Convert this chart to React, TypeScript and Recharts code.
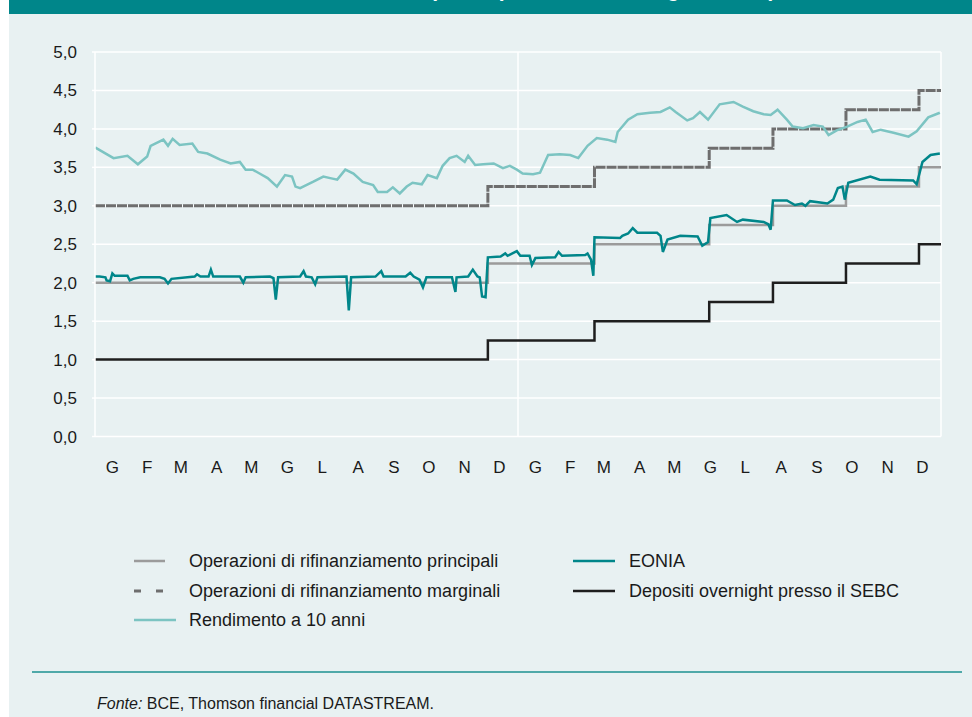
import React from 'react';
import { LineChart, Line, XAxis, YAxis, CartesianGrid, ReferenceLine } from 'recharts';

// days counted from 1 Jan 2005 (0) to 31 Dec 2006 (730)
const rateDays = [0, 339, 431, 530, 585, 648, 711, 730];
const mainRefi = [2.0, 2.25, 2.5, 2.75, 3.0, 3.25, 3.5, 3.5];
const marginalRefi = [3.0, 3.25, 3.5, 3.75, 4.0, 4.25, 4.5, 4.5];
const overnightDeposit = [1.0, 1.25, 1.5, 1.75, 2.0, 2.25, 2.5, 2.5];

const eoniaDays = [
  0, 4, 9, 10, 13, 15, 17, 28, 30, 33, 39, 56, 60, 63, 66, 86, 88, 91, 98, 100,
  102, 125, 128, 130, 151, 154, 156, 158, 177, 180, 182, 187, 190, 192, 217, 219, 221, 242, 247, 249,
  268, 272, 275, 280, 283, 286, 308, 311, 312, 322, 326, 330, 332, 334, 337, 339, 350, 354, 356, 364,
  367, 375, 377, 380, 397, 400, 403, 423, 425, 428, 430, 431, 453, 455, 460, 464, 468, 485, 488, 490,
  494, 505, 520, 524, 529, 531, 545, 554, 559, 577, 581, 583, 585, 597, 604, 610, 613, 617, 632, 637,
  641, 645, 647, 650, 669, 677, 706, 709, 714, 721, 729,
];
const eoniaValues = [
  2.08, 2.08, 2.07, 2.03, 2.02, 2.12, 2.09, 2.09, 2.03, 2.05, 2.07, 2.07, 2.05, 1.99, 2.05, 2.08, 2.11, 2.08, 2.08, 2.17,
  2.08, 2.08, 2.0, 2.07, 2.08, 2.06, 1.78, 2.07, 2.08, 2.15, 2.08, 2.07, 1.98, 2.07, 2.08, 1.64, 2.07, 2.08, 2.15, 2.08,
  2.08, 2.13, 2.08, 2.04, 1.94, 2.07, 2.07, 1.88, 2.07, 2.08, 2.17, 2.08, 2.07, 1.82, 1.81, 2.33, 2.34, 2.38, 2.35, 2.41,
  2.35, 2.35, 2.23, 2.32, 2.33, 2.4, 2.35, 2.36, 2.38, 2.3, 2.09, 2.59, 2.58, 2.61, 2.64, 2.71, 2.65, 2.65, 2.61, 2.4,
  2.56, 2.61, 2.6, 2.48, 2.53, 2.84, 2.88, 2.79, 2.82, 2.79, 2.76, 2.69, 3.07, 3.07, 3.01, 3.03, 3.0, 3.06, 3.03, 3.08,
  3.23, 3.25, 3.08, 3.3, 3.38, 3.34, 3.33, 3.28, 3.57, 3.66, 3.68,
];

const bondDays = [
  0, 16, 28, 37, 45, 48, 59, 63, 67, 73, 84, 89, 97, 108, 117, 125, 130, 136, 142, 149,
  157, 164, 170, 173, 177, 188, 197, 203, 209, 216, 223, 231, 240, 244, 252, 257, 263, 269, 274, 282,
  287, 295, 300, 306, 312, 319, 322, 328, 335, 344, 352, 358, 364, 369, 378, 384, 391, 401, 410, 417,
  425, 433, 442, 449, 451, 460, 468, 479, 488, 496, 501, 511, 516, 522, 529, 539, 551, 559, 568, 577,
  583, 589, 597, 602, 611, 620, 628, 633, 640, 649, 658, 665, 671, 678, 689, 702, 709, 719, 729,
];
const bondValues = [
  3.76, 3.62, 3.65, 3.54, 3.64, 3.78, 3.86, 3.78, 3.87, 3.79, 3.81, 3.7, 3.68, 3.6, 3.55, 3.57, 3.47, 3.47, 3.42, 3.36,
  3.25, 3.4, 3.38, 3.25, 3.23, 3.31, 3.38, 3.36, 3.34, 3.47, 3.42, 3.31, 3.27, 3.18, 3.18, 3.24, 3.16, 3.25, 3.3, 3.28,
  3.4, 3.36, 3.52, 3.62, 3.65, 3.57, 3.65, 3.53, 3.54, 3.55, 3.49, 3.52, 3.47, 3.42, 3.41, 3.43, 3.66, 3.67, 3.66, 3.62,
  3.78, 3.88, 3.86, 3.83, 3.96, 4.12, 4.19, 4.21, 4.22, 4.28, 4.22, 4.11, 4.14, 4.22, 4.12, 4.32, 4.35, 4.29, 4.23, 4.19,
  4.18, 4.25, 4.12, 4.03, 4.01, 4.05, 4.03, 3.92, 3.98, 4.03, 4.09, 4.12, 3.96, 3.99, 3.95, 3.9, 3.97, 4.15, 4.21,
];

const monthTicks = [15, 45, 74, 105, 135, 166, 196, 227, 258, 288, 319, 349, 380, 410, 439, 470, 500, 531, 561, 592, 623, 653, 684, 714];
const monthLabels = ['G', 'F', 'M', 'A', 'M', 'G', 'L', 'A', 'S', 'O', 'N', 'D', 'G', 'F', 'M', 'A', 'M', 'G', 'L', 'A', 'S', 'O', 'N', 'D'];
const yearTicks = [194, 561];
const yearLabels = ['2005', '2006'];
const yTicks = [0, 0.5, 1, 1.5, 2, 2.5, 3, 3.5, 4, 4.5, 5];

const toRows = (days: number[], values: number[]) => days.map((d, i) => ({ day: d, v: values[i] }));

const mroData = toRows(rateDays, mainRefi);
const marginalData = toRows(rateDays, marginalRefi);
const depositData = toRows(rateDays, overnightDeposit);
const eoniaData = toRows(eoniaDays, eoniaValues);
const bondData = toRows(bondDays, bondValues);

const FONT = '"Liberation Sans", Arial, sans-serif';
const BG = '#e8f1f2';

const legendItems = [
  { label: 'Operazioni di rifinanziamento principali', color: '#9b9b9b', dash: '', len: 31, x: 134, tx: 189, y: 561 },
  { label: 'Operazioni di rifinanziamento marginali', color: '#6e6e6e', dash: '7 15', len: 31, x: 134, tx: 189, y: 591 },
  { label: 'Rendimento a 10 anni', color: '#7cc4c2', dash: '', len: 42, x: 134, tx: 189, y: 620 },
  { label: 'EONIA', color: '#00868a', dash: '', len: 42, x: 573, tx: 629, y: 561 },
  { label: 'Depositi overnight presso il SEBC', color: '#1e1e1e', dash: '', len: 42, x: 573, tx: 629, y: 591 },
];

const fmt = (v: number) => v.toFixed(1).replace('.', ',');

export default function App() {
  return (
    <div style={{ position: 'absolute', left: 0, top: 0, width: 972, height: 717, background: '#fff', overflow: 'hidden', fontFamily: FONT }}>
      <div style={{ position: 'absolute', left: 9, top: 0, width: 963, height: 717, background: BG }} />
      <div style={{ position: 'absolute', left: 9, top: 0, width: 963, height: 14, background: '#00868a', overflow: 'hidden' }}>
        <div style={{ position: 'absolute', left: 421, top: -22, whiteSpace: 'nowrap', color: '#fff', fontSize: 21, fontWeight: 'bold' }}>
          (valori percentuali; dati giornalieri)
        </div>
      </div>

      <div style={{ position: 'absolute', left: 0, top: 0 }}>
        <LineChart width={972} height={520} margin={{ top: 52, right: 31, bottom: 13.5, left: 0 }}>
          <CartesianGrid vertical={false} stroke="#ffffff" strokeWidth={1.5} />
          <XAxis
            dataKey="day"
            type="number"
            domain={[0, 730]}
            ticks={monthTicks}
            interval={0}
            tickFormatter={(v: number) => monthLabels[monthTicks.indexOf(v)]}
            axisLine={false}
            tickLine={false}
            tickSize={0}
            tickMargin={24}
            height={40}
            tick={{ fontSize: 17, fill: '#1a1a1a', fontFamily: FONT }}
          />
          <XAxis
            xAxisId="year"
            dataKey="day"
            type="number"
            domain={[0, 730]}
            ticks={yearTicks}
            interval={0}
            tickFormatter={(v: number) => yearLabels[yearTicks.indexOf(v)]}
            axisLine={false}
            tickLine={false}
            tickSize={0}
            tickMargin={15}
            height={30}
            tick={{ fontSize: 16, fill: '#1a1a1a', fontFamily: FONT }}
          />
          <YAxis
            type="number"
            domain={[0, 5]}
            ticks={yTicks}
            interval={0}
            width={95}
            tickFormatter={fmt}
            axisLine={{ stroke: '#ffffff', strokeWidth: 1.5 }}
            tickLine={{ stroke: '#ffffff', strokeWidth: 1.5 }}
            tickSize={3}
            tickMargin={15}
            tick={{ fontSize: 17, fill: '#1a1a1a', fontFamily: FONT }}
          />
          <ReferenceLine x={365} stroke="#ffffff" strokeWidth={1.5} />
          <ReferenceLine x={730} stroke="#ffffff" strokeWidth={1.5} />
          <Line data={mroData} dataKey="v" type="stepAfter" stroke="#9b9b9b" strokeWidth={2.5} dot={false} isAnimationActive={false} />
          <Line data={marginalData} dataKey="v" type="stepAfter" stroke="#6e6e6e" strokeWidth={3} strokeDasharray="10 1" dot={false} isAnimationActive={false} />
          <Line data={depositData} dataKey="v" type="stepAfter" stroke="#1e1e1e" strokeWidth={2.5} dot={false} isAnimationActive={false} />
          <Line data={bondData} dataKey="v" type="linear" stroke="#7cc4c2" strokeWidth={2.5} dot={false} isAnimationActive={false} />
          <Line data={eoniaData} dataKey="v" type="linear" stroke="#00868a" strokeWidth={2.5} dot={false} isAnimationActive={false} />
        </LineChart>
      </div>

      {legendItems.map((it) => (
        <React.Fragment key={it.label}>
          <svg style={{ position: 'absolute', left: it.x, top: it.y - 3 }} width={it.len} height={6}>
            <line x1={0} y1={3} x2={it.len} y2={3} stroke={it.color} strokeWidth={it.dash ? 3 : 2.5} strokeDasharray={it.dash || undefined} />
          </svg>
          <div style={{ position: 'absolute', left: it.tx, top: it.y - 11, fontSize: 18, lineHeight: '22px', color: '#1a1a1a', whiteSpace: 'nowrap' }}>
            {it.label}
          </div>
        </React.Fragment>
      ))}

      <div style={{ position: 'absolute', left: 32, top: 671, width: 930, height: 2, background: '#4fa9a9' }} />
      <div style={{ position: 'absolute', left: 97, top: 694, fontSize: 16, lineHeight: '20px', color: '#1a1a1a', whiteSpace: 'nowrap' }}>
        <i>Fonte:</i> BCE, Thomson financial DATASTREAM.
      </div>
    </div>
  );
}
